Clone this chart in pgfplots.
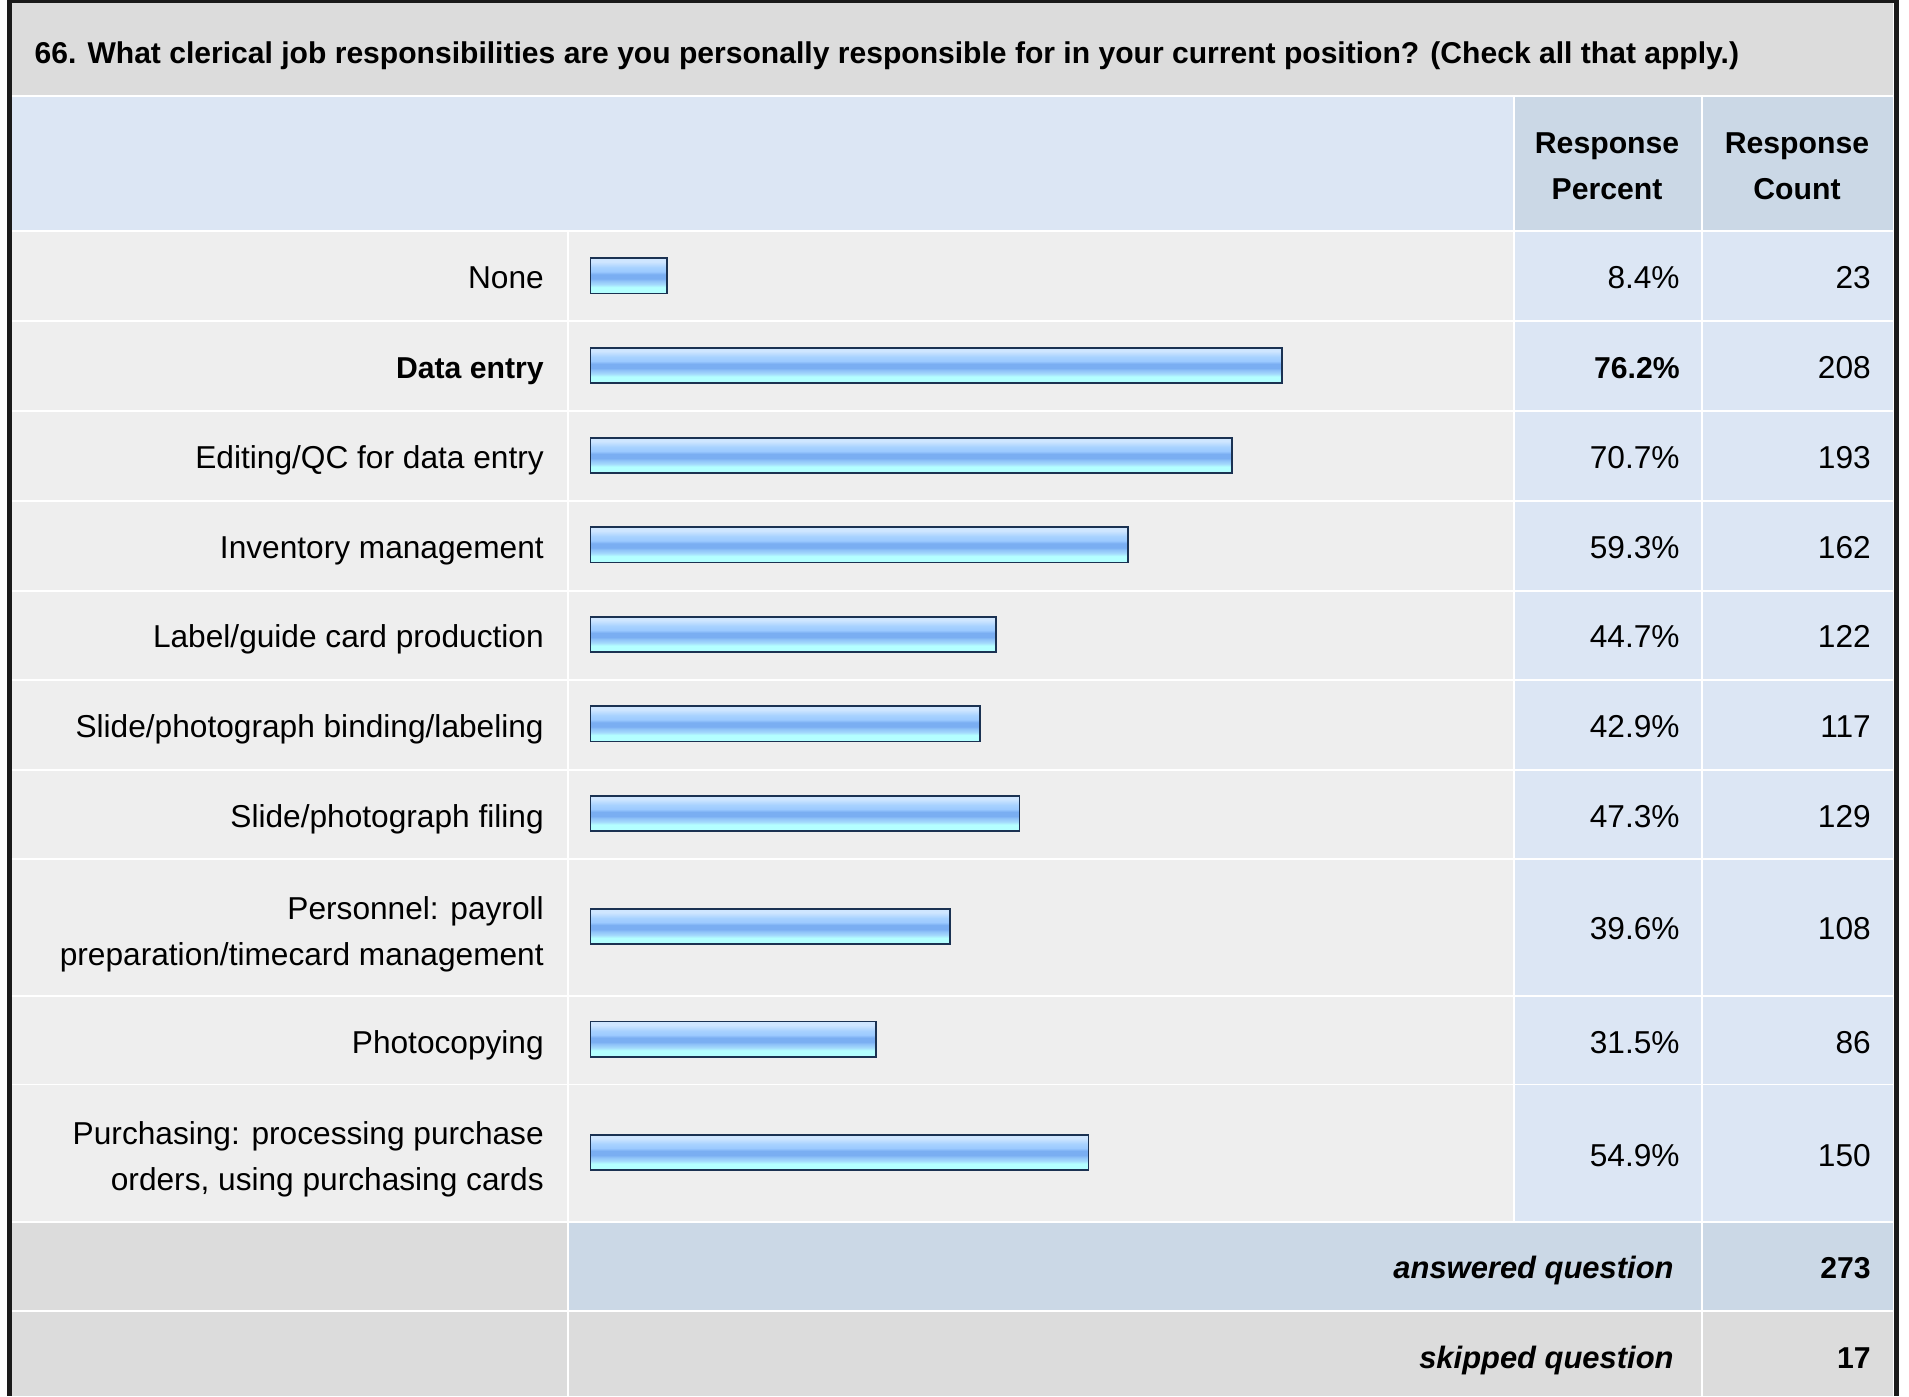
\documentclass[border=0pt]{standalone}
\usepackage{pgfplots}
\pgfplotsset{compat=1.18}
\usepackage{fontspec}
\setmainfont{Liberation Sans}
\definecolor{titlegray}{HTML}{DCDCDC}
\definecolor{hdrblue}{HTML}{DCE6F4}
\definecolor{hdrcell}{HTML}{CBD8E6}
\definecolor{rowgray}{HTML}{EEEEEE}
\definecolor{rowblue}{HTML}{DCE6F4}
\definecolor{framec}{HTML}{1A1A1A}
\definecolor{barborder}{HTML}{1B3252}
\definecolor{barA}{HTML}{B4FFFF}
\definecolor{barB}{HTML}{A4DAFC}
\definecolor{barC}{HTML}{8FC2F8}
\definecolor{barD}{HTML}{7AAEF2}
\definecolor{barE}{HTML}{9CCAFF}
\definecolor{barF}{HTML}{A8D2FF}
\definecolor{barG}{HTML}{CFE6FF}
\pgfdeclareverticalshading{barshade}{100bp}{color(0bp)=(barA); color(25bp)=(barA); color(34bp)=(barA); color(38bp)=(barB); color(43bp)=(barC); color(46bp)=(barD); color(52bp)=(barD); color(56bp)=(barE); color(62bp)=(barF); color(70bp)=(barG); color(75bp)=(barG); color(100bp)=(barG)}
\pgfplotsset{mybar/.style={xbar, bar width=14.5pt, bar shift=0pt, draw=barborder, solid, line width=0.75pt, shade, shading=barshade, mark=none}}
\newcommand\fs{\fontsize{13}{19}\selectfont}
\newcommand\fb{\fontsize{12.4}{19}\selectfont\bfseries}
\begin{document}
\begin{tikzpicture}
\useasboundingbox (0,0) rectangle (784pt,-573.5pt);
\begin{scope}[x=0.5pt,y=-0.5pt]
\fill[white] (0,0) rectangle (1568,1147);
\fill[framec] (6,0) rectangle (1559.5,1147);
\fill[white] (9.5,2.5) rectangle (1556,1147);
% title
\fill[titlegray] (9.5,2.5) rectangle (1555,78);
% header
\fill[hdrblue] (9.5,79.5) rectangle (1242.5,189);
\fill[hdrcell] (1244,79.5) rectangle (1397.5,189);
\fill[hdrcell] (1399,79.5) rectangle (1555,189);
% data rows
\foreach \a/\b in {190.5/263,264.5/337,338.5/411,412.5/485,486.5/558,559.5/632,633.5/705,706.5/817,818.5/890,891.5/1003}{
  \fill[rowgray] (9.5,\a) rectangle (465.5,\b);
  \fill[rowgray] (467,\a) rectangle (1242.5,\b);
  \fill[rowblue] (1244,\a) rectangle (1397.5,\b);
  \fill[rowblue] (1399,\a) rectangle (1555,\b);
}
% answered
\fill[titlegray] (9.5,1004.5) rectangle (465.5,1076);
\fill[hdrcell] (467,1004.5) rectangle (1397.5,1076);
\fill[hdrcell] (1399,1004.5) rectangle (1555,1076);
% skipped
\fill[titlegray] (9.5,1077.5) rectangle (465.5,1147);
\fill[titlegray] (467,1077.5) rectangle (1397.5,1147);
\fill[titlegray] (1399,1077.5) rectangle (1555,1147);
% title text
\node[anchor=base west, inner sep=0pt, font=\fontsize{12.35}{14}\selectfont\bfseries] at (28,52.5) {66. What clerical job responsibilities are you personally responsible for in your current position? (Check all that apply.)};
% header text
\begin{scope}[every node/.style={anchor=base, inner sep=0pt, font=\fb}]
\node at (1320,126) {Response};
\node at (1320,164) {Percent};
\node at (1476,126) {Response};
\node at (1476,164) {Count};
\end{scope}
% labels
\begin{scope}[every node/.style={anchor=base east, inner sep=0pt, font=\fs}]
\node at (447,237) {None};
\node[font=\fb] at (447,311) {Data entry};
\node at (447,385) {Editing/QC for data entry};
\node at (447,459) {Inventory management};
\node at (447,532) {Label/guide card production};
\node at (447,606) {Slide/photograph binding/labeling};
\node at (447,680) {Slide/photograph filing};
\node at (447,755) {Personnel: payroll};
\node at (447,793) {preparation/timecard management};
\node at (447,865) {Photocopying};
\node at (447,940) {Purchasing: processing purchase};
\node at (447,978) {orders, using purchasing cards};
% percents
\node at (1380,237) {8.4\%};
\node[font=\fb] at (1380,311) {76.2\%};
\node at (1380,385) {70.7\%};
\node at (1380,459) {59.3\%};
\node at (1380,532) {44.7\%};
\node at (1380,606) {42.9\%};
\node at (1380,680) {47.3\%};
\node at (1380,772) {39.6\%};
\node at (1380,865) {31.5\%};
\node at (1380,958) {54.9\%};
% counts
\node at (1537,237) {23};
\node at (1537,311) {208};
\node at (1537,385) {193};
\node at (1537,459) {162};
\node at (1537,532) {122};
\node at (1537,606) {117};
\node at (1537,680) {129};
\node at (1537,772) {108};
\node at (1537,865) {86};
\node at (1537,958) {150};
% footer
\node[font=\fontsize{12.7}{19}\selectfont\bfseries\itshape] at (1375,1050) {answered question};
\node[font=\fb] at (1537,1050) {273};
\node[font=\fontsize{12.7}{19}\selectfont\bfseries\itshape] at (1375,1124) {skipped question};
\node[font=\fb] at (1537,1124) {17};
\end{scope}
\end{scope}
\begin{axis}[at={(242.5pt,-573.5pt)}, anchor=south west, scale only axis,
  width=372.5pt, height=573.5pt, xmin=0, xmax=100, ymin=-1147, ymax=0,
  hide axis, clip=false]
\addplot[mybar] coordinates {(8.4,-226.5)};
\addplot[mybar] coordinates {(76.2,-300)};
\addplot[mybar] coordinates {(70.7,-374)};
\addplot[mybar] coordinates {(59.3,-447.5)};
\addplot[mybar] coordinates {(44.7,-521)};
\addplot[mybar] coordinates {(42.9,-594.5)};
\addplot[mybar] coordinates {(47.3,-668)};
\addplot[mybar] coordinates {(39.6,-761)};
\addplot[mybar] coordinates {(31.5,-853.5)};
\addplot[mybar] coordinates {(54.9,-946.5)};
\end{axis}
\end{tikzpicture}
\end{document}
